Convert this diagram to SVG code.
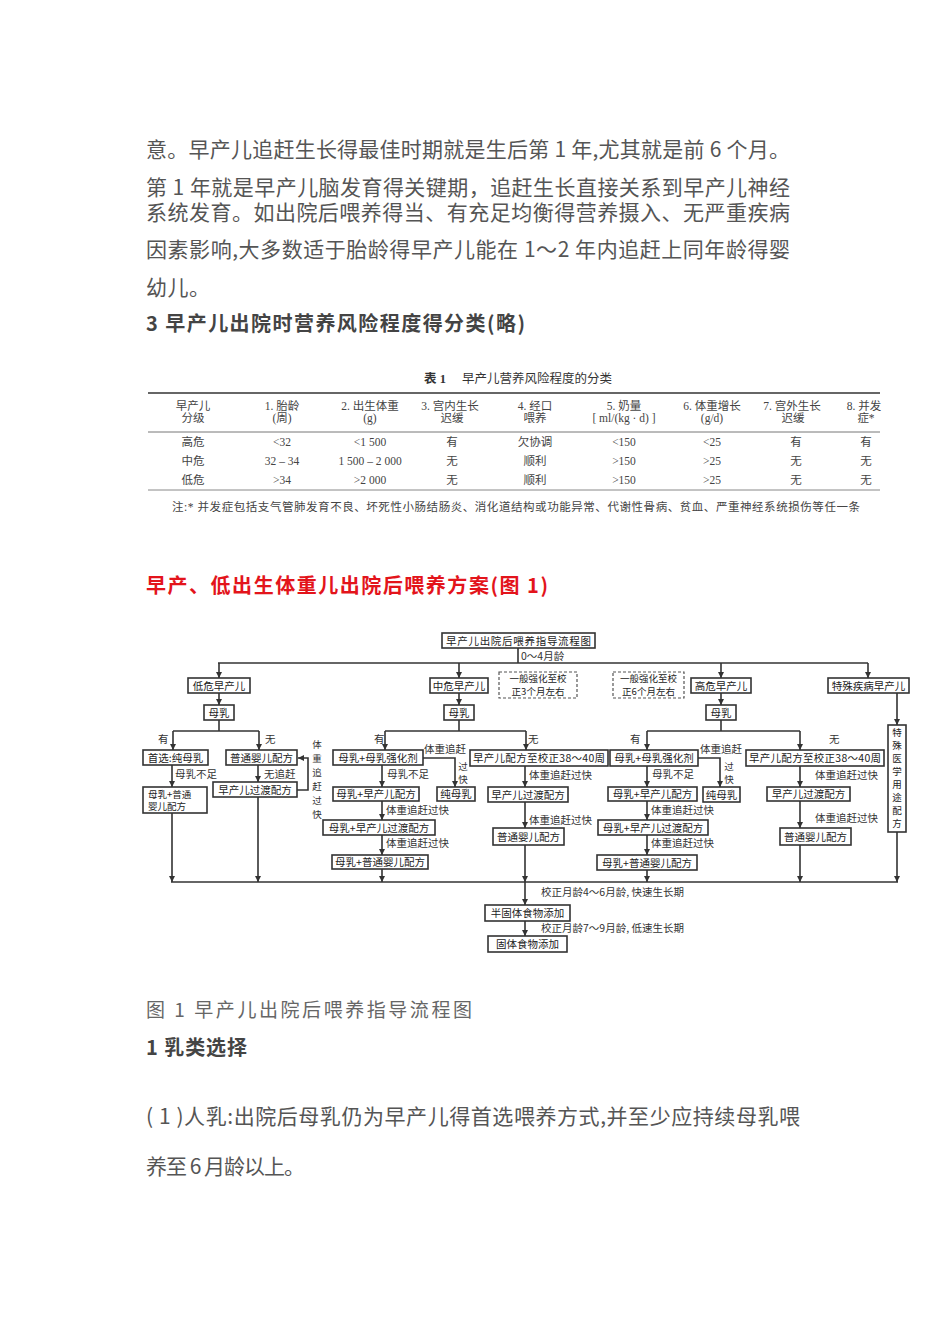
<svg xmlns="http://www.w3.org/2000/svg" width="950" height="1344" viewBox="0 0 950 1344">
<defs>
<style>
.body{font-family:"Noto Sans CJK SC","Noto Sans",sans-serif;font-size:21px;fill:#555}
.h{font-family:"Noto Sans CJK SC","Noto Sans",sans-serif;font-size:20px;font-weight:bold;fill:#444}
.red{font-family:"Noto Sans CJK SC","Noto Sans",sans-serif;font-size:20px;font-weight:bold;fill:#e3141b}
.cap{font-family:"Noto Sans CJK SC","Noto Sans",sans-serif;font-size:19px;fill:#666}
.tb{font-family:"Liberation Serif","Noto Sans CJK SC",serif;font-size:11.5px;fill:#444;text-anchor:middle}
.tt{font-family:"Liberation Serif","Noto Sans CJK SC",serif;font-size:12.5px;fill:#333}
.box{fill:#fff;stroke:#333;stroke-width:1.6}
.dbox{fill:#fff;stroke:#555;stroke-width:1.2;stroke-dasharray:3 2}
.t{font-family:"Noto Sans CJK SC",sans-serif;font-size:10.5px;fill:#222;text-anchor:middle}
.t2{font-family:"Noto Sans CJK SC",sans-serif;font-size:9.5px;fill:#222;text-anchor:middle}
.l{font-family:"Noto Sans CJK SC",sans-serif;font-size:10.5px;fill:#333}
.v{font-family:"Noto Sans CJK SC",sans-serif;font-size:9.5px;fill:#333;text-anchor:middle}
.ln{stroke:#333;stroke-width:1.6;fill:none}
.ar{stroke:#333;stroke-width:1.6;fill:none;marker-end:url(#ah)}
</style>
<marker id="ah" viewBox="0 0 6 6" refX="6" refY="3" markerWidth="6" markerHeight="6" orient="auto" markerUnits="userSpaceOnUse"><path d="M0,0 L6,3 L0,6 z" fill="#333"/></marker>
</defs>
<rect width="950" height="1344" fill="#fff"/>

<!-- body text -->
<g id="body-text">
<text class="body" x="146" y="157" textLength="644" lengthAdjust="spacing">意。早产儿追赶生长得最佳时期就是生后第 1 年,尤其就是前 6 个月。</text>
<text class="body" x="146" y="195" textLength="644" lengthAdjust="spacing">第 1 年就是早产儿脑发育得关键期，追赶生长直接关系到早产儿神经</text>
<text class="body" x="146" y="220" textLength="644" lengthAdjust="spacing">系统发育。如出院后喂养得当、有充足均衡得营养摄入、无严重疾病</text>
<text class="body" x="146" y="257" textLength="644" lengthAdjust="spacing">因素影响,大多数适于胎龄得早产儿能在 1～2 年内追赶上同年龄得婴</text>
<text class="body" x="146" y="295" textLength="64" lengthAdjust="spacing">幼儿。</text>
<text class="h" x="146" y="331" textLength="379" lengthAdjust="spacing">3 早产儿出院时营养风险程度得分类(略)</text>
</g>

<!-- table -->
<g id="table">
<text class="tt" x="424" y="383"><tspan font-weight="bold">表 1</tspan><tspan x="462">早产儿营养风险程度的分类</tspan></text>
<line x1="148" y1="393" x2="880" y2="393" stroke="#666" stroke-width="2.2"/>
<line x1="148" y1="432" x2="880" y2="432" stroke="#777" stroke-width="1"/>
<line x1="148" y1="490" x2="880" y2="490" stroke="#888" stroke-width="1"/>
<text class="tb" x="193" y="410">早产儿</text><text class="tb" x="193" y="422">分级</text>
<text class="tb" x="282" y="410">1. 胎龄</text><text class="tb" x="282" y="422">(周)</text>
<text class="tb" x="370" y="410">2. 出生体重</text><text class="tb" x="370" y="422">(g)</text>
<text class="tb" x="450" y="410">3. 宫内生长</text><text class="tb" x="452" y="422">迟缓</text>
<text class="tb" x="535" y="410">4. 经口</text><text class="tb" x="535" y="422">喂养</text>
<text class="tb" x="624" y="410">5. 奶量</text><text class="tb" x="624" y="422">[ ml/(kg · d) ]</text>
<text class="tb" x="712" y="410">6. 体重增长</text><text class="tb" x="712" y="422">(g/d)</text>
<text class="tb" x="792" y="410">7. 宫外生长</text><text class="tb" x="793" y="422">迟缓</text>
<text class="tb" x="864" y="410">8. 并发</text><text class="tb" x="866" y="422">症*</text>
<text class="tb" x="193" y="446">高危</text><text class="tb" x="282" y="446">&lt;32</text><text class="tb" x="370" y="446">&lt;1 500</text><text class="tb" x="452" y="446">有</text><text class="tb" x="535" y="446">欠协调</text><text class="tb" x="624" y="446">&lt;150</text><text class="tb" x="712" y="446">&lt;25</text><text class="tb" x="796" y="446">有</text><text class="tb" x="866" y="446">有</text>
<text class="tb" x="193" y="465">中危</text><text class="tb" x="282" y="465">32 – 34</text><text class="tb" x="370" y="465">1 500 – 2 000</text><text class="tb" x="452" y="465">无</text><text class="tb" x="535" y="465">顺利</text><text class="tb" x="624" y="465">&gt;150</text><text class="tb" x="712" y="465">&gt;25</text><text class="tb" x="796" y="465">无</text><text class="tb" x="866" y="465">无</text>
<text class="tb" x="193" y="484">低危</text><text class="tb" x="282" y="484">&gt;34</text><text class="tb" x="370" y="484">&gt;2 000</text><text class="tb" x="452" y="484">无</text><text class="tb" x="535" y="484">顺利</text><text class="tb" x="624" y="484">&gt;150</text><text class="tb" x="712" y="484">&gt;25</text><text class="tb" x="796" y="484">无</text><text class="tb" x="866" y="484">无</text>
<text class="tb" x="172" y="511" style="text-anchor:start" textLength="688" lengthAdjust="spacing">注:* 并发症包括支气管肺发育不良、坏死性小肠结肠炎、消化道结构或功能异常、代谢性骨病、贫血、严重神经系统损伤等任一条</text>
</g>

<text id="red-heading" class="red" x="146" y="593" textLength="402" lengthAdjust="spacing">早产、低出生体重儿出院后喂养方案(图 1)</text>

<!-- connectors -->
<g id="connectors">
<line class="ln" x1="518" y1="648" x2="518" y2="663"/>
<line class="ln" x1="218" y1="663" x2="868" y2="663"/>
<line class="ar" x1="219" y1="663" x2="219" y2="678"/>
<line class="ar" x1="459" y1="663" x2="459" y2="678"/>
<line class="ar" x1="721" y1="663" x2="721" y2="678"/>
<line class="ar" x1="868" y1="663" x2="868" y2="678"/>
<line class="ar" x1="219" y1="693" x2="219" y2="705"/>
<line class="ar" x1="459" y1="693" x2="459" y2="705"/>
<line class="ar" x1="721" y1="693" x2="721" y2="705"/>
<line class="ar" x1="897" y1="693" x2="897" y2="725"/>
<line class="ln" x1="219" y1="720" x2="219" y2="731"/>
<line class="ln" x1="173" y1="731" x2="259" y2="731"/>
<line class="ar" x1="173" y1="731" x2="173" y2="750"/>
<line class="ar" x1="259" y1="731" x2="259" y2="750"/>
<line class="ln" x1="459" y1="720" x2="459" y2="731"/>
<line class="ln" x1="385" y1="731" x2="526" y2="731"/>
<line class="ar" x1="385" y1="731" x2="385" y2="750"/>
<line class="ar" x1="526" y1="731" x2="526" y2="750"/>
<line class="ln" x1="721" y1="720" x2="721" y2="731"/>
<line class="ln" x1="647" y1="731" x2="800" y2="731"/>
<line class="ar" x1="647" y1="731" x2="647" y2="750"/>
<line class="ar" x1="800" y1="731" x2="800" y2="750"/>
<line class="ar" x1="172" y1="765" x2="172" y2="787"/>
<line class="ar" x1="172" y1="813" x2="172" y2="882"/>
<line class="ar" x1="258" y1="765" x2="258" y2="782"/>
<line class="ar" x1="258" y1="797" x2="258" y2="882"/>
<polyline class="ar" points="297,790 308,790 308,758 298,758"/>
<polyline class="ar" points="423,758 455,758 455,787"/>
<line class="ar" x1="382" y1="765" x2="382" y2="787"/>
<line class="ar" x1="382" y1="801" x2="382" y2="820"/>
<line class="ar" x1="382" y1="835" x2="382" y2="855"/>
<line class="ar" x1="382" y1="869" x2="382" y2="882"/>
<line class="ar" x1="525" y1="766" x2="525" y2="787"/>
<line class="ar" x1="525" y1="802" x2="525" y2="828"/>
<line class="ar" x1="525" y1="845" x2="525" y2="882"/>
<polyline class="ar" points="698,758 720,758 720,787"/>
<line class="ar" x1="647" y1="766" x2="647" y2="787"/>
<line class="ar" x1="647" y1="801" x2="647" y2="820"/>
<line class="ar" x1="647" y1="835" x2="647" y2="855"/>
<line class="ar" x1="647" y1="870" x2="647" y2="882"/>
<line class="ar" x1="800" y1="766" x2="800" y2="787"/>
<line class="ar" x1="800" y1="801" x2="800" y2="828"/>
<line class="ar" x1="800" y1="845" x2="800" y2="882"/>
<line class="ar" x1="897" y1="832" x2="897" y2="882"/>
<line class="ln" x1="171" y1="882" x2="898" y2="882"/>
<line class="ar" x1="525" y1="882" x2="525" y2="905"/>
<line class="ar" x1="525" y1="921" x2="525" y2="936"/>
</g>

<!-- connector labels -->
<g id="labels">
<text class="l" x="521" y="660" font-size="10">0～4月龄</text>
<text class="l" x="158" y="743">有</text>
<text class="l" x="265" y="743">无</text>
<text class="l" x="374" y="743">有</text>
<text class="l" x="528" y="743">无</text>
<text class="l" x="630" y="743">有</text>
<text class="l" x="829" y="743">无</text>
<text class="l" x="175" y="778">母乳不足</text>
<text class="l" x="264" y="778">无追赶</text>
<text class="v" x="317" y="748">体</text><text class="v" x="317" y="762">重</text><text class="v" x="317" y="776">追</text><text class="v" x="317" y="790">赶</text><text class="v" x="317" y="804">过</text><text class="v" x="317" y="818">快</text>
<text class="l" x="424" y="753" font-size="10">体重追赶</text>
<text class="v" x="463" y="770">过</text><text class="v" x="463" y="783">快</text>
<text class="l" x="387" y="778">母乳不足</text>
<text class="l" x="386" y="814">体重追赶过快</text>
<text class="l" x="386" y="847">体重追赶过快</text>
<text class="l" x="529" y="779">体重追赶过快</text>
<text class="l" x="529" y="824">体重追赶过快</text>
<text class="l" x="700" y="753" font-size="10">体重追赶</text>
<text class="v" x="729" y="770">过</text><text class="v" x="729" y="783">快</text>
<text class="l" x="652" y="778">母乳不足</text>
<text class="l" x="651" y="814">体重追赶过快</text>
<text class="l" x="651" y="847">体重追赶过快</text>
<text class="l" x="815" y="779">体重追赶过快</text>
<text class="l" x="815" y="822">体重追赶过快</text>
<text class="l" x="541" y="896" font-size="10">校正月龄4～6月龄, 快速生长期</text>
<text class="l" x="541" y="932" font-size="10">校正月龄7～9月龄, 低速生长期</text>
</g>

<!-- nodes -->
<g id="n-title"><rect class="box" x="442" y="633" width="153" height="15"/><text class="t" x="518.5" y="644.5" textLength="145" lengthAdjust="spacing">早产儿出院后喂养指导流程图</text></g>
<g id="n-low"><rect class="box" x="188" y="678" width="62" height="15"/><text class="t" x="219" y="689.5">低危早产儿</text></g>
<g id="n-mid"><rect class="box" x="430" y="678" width="58" height="15"/><text class="t" x="459" y="689.5">中危早产儿</text></g>
<g id="n-d1"><rect class="dbox" x="499" y="672" width="78" height="26"/><text class="t2" x="538" y="682">一般强化至校</text><text class="t2" x="538" y="695">正3个月左右</text></g>
<g id="n-d2"><rect class="dbox" x="613" y="672" width="71" height="26"/><text class="t2" x="648.5" y="682">一般强化至校</text><text class="t2" x="648.5" y="695">正6个月左右</text></g>
<g id="n-high"><rect class="box" x="691" y="678" width="60" height="15"/><text class="t" x="721" y="689.5">高危早产儿</text></g>
<g id="n-spec"><rect class="box" x="828" y="678" width="81" height="15"/><text class="t" x="868.5" y="689.5">特殊疾病早产儿</text></g>
<g id="n-ml"><rect class="box" x="204" y="705" width="30" height="15"/><text class="t" x="219" y="716.5">母乳</text></g>
<g id="n-mm"><rect class="box" x="444" y="705" width="30" height="15"/><text class="t" x="459" y="716.5">母乳</text></g>
<g id="n-mh"><rect class="box" x="706" y="705" width="30" height="15"/><text class="t" x="721" y="716.5">母乳</text></g>
<g id="n-specf"><rect class="box" x="888" y="725" width="18" height="107"/>
<text class="t2" x="897" y="736">特</text><text class="t2" x="897" y="749">殊</text><text class="t2" x="897" y="762">医</text><text class="t2" x="897" y="775">学</text><text class="t2" x="897" y="788">用</text><text class="t2" x="897" y="801">途</text><text class="t2" x="897" y="814">配</text><text class="t2" x="897" y="827">方</text></g>
<g id="n-l1"><rect class="box" x="143" y="750" width="65" height="15"/><text class="t" x="175.5" y="761.5">首选:纯母乳</text></g>
<g id="n-l2"><rect class="box" x="143" y="787" width="64" height="26"/><text class="t2" x="148" y="797.5" style="text-anchor:start">母乳+普通</text><text class="t2" x="148" y="810" style="text-anchor:start">婴儿配方</text></g>
<g id="n-l3"><rect class="box" x="226" y="750" width="71" height="15"/><text class="t" x="261.5" y="761.5">普通婴儿配方</text></g>
<g id="n-l4"><rect class="box" x="213" y="782" width="84" height="15"/><text class="t" x="255" y="793.5">早产儿过渡配方</text></g>
<g id="n-m1"><rect class="box" x="333" y="750" width="90" height="15"/><text class="t" x="378" y="761.5">母乳+母乳强化剂</text></g>
<g id="n-m2"><rect class="box" x="437" y="787" width="38" height="14"/><text class="t" x="456" y="798">纯母乳</text></g>
<g id="n-m3"><rect class="box" x="333" y="787" width="86" height="14"/><text class="t" x="376" y="798">母乳+早产儿配方</text></g>
<g id="n-m4"><rect class="box" x="323" y="820" width="112" height="15"/><text class="t" x="379" y="831.5">母乳+早产儿过渡配方</text></g>
<g id="n-m5"><rect class="box" x="332" y="855" width="96" height="14"/><text class="t" x="380" y="866">母乳+普通婴儿配方</text></g>
<g id="n-m6"><rect class="box" x="470" y="750" width="138" height="16"/><text class="t" x="539" y="762" textLength="132" lengthAdjust="spacing">早产儿配方至校正38～40周</text></g>
<g id="n-m7"><rect class="box" x="488" y="787" width="80" height="15"/><text class="t" x="528" y="798.5">早产儿过渡配方</text></g>
<g id="n-m8"><rect class="box" x="493" y="828" width="71" height="17"/><text class="t" x="528.5" y="840.5">普通婴儿配方</text></g>
<g id="n-h1"><rect class="box" x="610" y="750" width="88" height="16"/><text class="t" x="654" y="762">母乳+母乳强化剂</text></g>
<g id="n-h2"><rect class="box" x="703" y="787" width="37" height="15"/><text class="t" x="721.5" y="798.5">纯母乳</text></g>
<g id="n-h3"><rect class="box" x="608" y="787" width="89" height="14"/><text class="t" x="652.5" y="798">母乳+早产儿配方</text></g>
<g id="n-h4"><rect class="box" x="598" y="820" width="110" height="15"/><text class="t" x="653" y="831.5">母乳+早产儿过渡配方</text></g>
<g id="n-h5"><rect class="box" x="597" y="855" width="100" height="15"/><text class="t" x="647" y="866.5">母乳+普通婴儿配方</text></g>
<g id="n-h6"><rect class="box" x="746" y="750" width="138" height="16"/><text class="t" x="815" y="762" textLength="132" lengthAdjust="spacing">早产儿配方至校正38～40周</text></g>
<g id="n-h7"><rect class="box" x="767" y="787" width="83" height="14"/><text class="t" x="808.5" y="798">早产儿过渡配方</text></g>
<g id="n-h8"><rect class="box" x="780" y="828" width="71" height="17"/><text class="t" x="815.5" y="840.5">普通婴儿配方</text></g>
<g id="n-semi"><rect class="box" x="485" y="905" width="85" height="16"/><text class="t" x="527.5" y="917">半固体食物添加</text></g>
<g id="n-solid"><rect class="box" x="488" y="936" width="79" height="16"/><text class="t" x="527.5" y="948">固体食物添加</text></g>

<!-- captions -->
<g id="caption-text">
<text class="cap" x="146" y="1017" textLength="326" lengthAdjust="spacing">图 1  早产儿出院后喂养指导流程图</text>
<text class="h" x="146" y="1055" textLength="101" lengthAdjust="spacing">1 乳类选择</text>
<text class="body" x="146" y="1124" textLength="654" lengthAdjust="spacing">( 1 )人乳:出院后母乳仍为早产儿得首选喂养方式,并至少应持续母乳喂</text>
<text class="body" x="146" y="1174" textLength="159" lengthAdjust="spacing">养至 6 月龄以上。</text>
</g>
</svg>
